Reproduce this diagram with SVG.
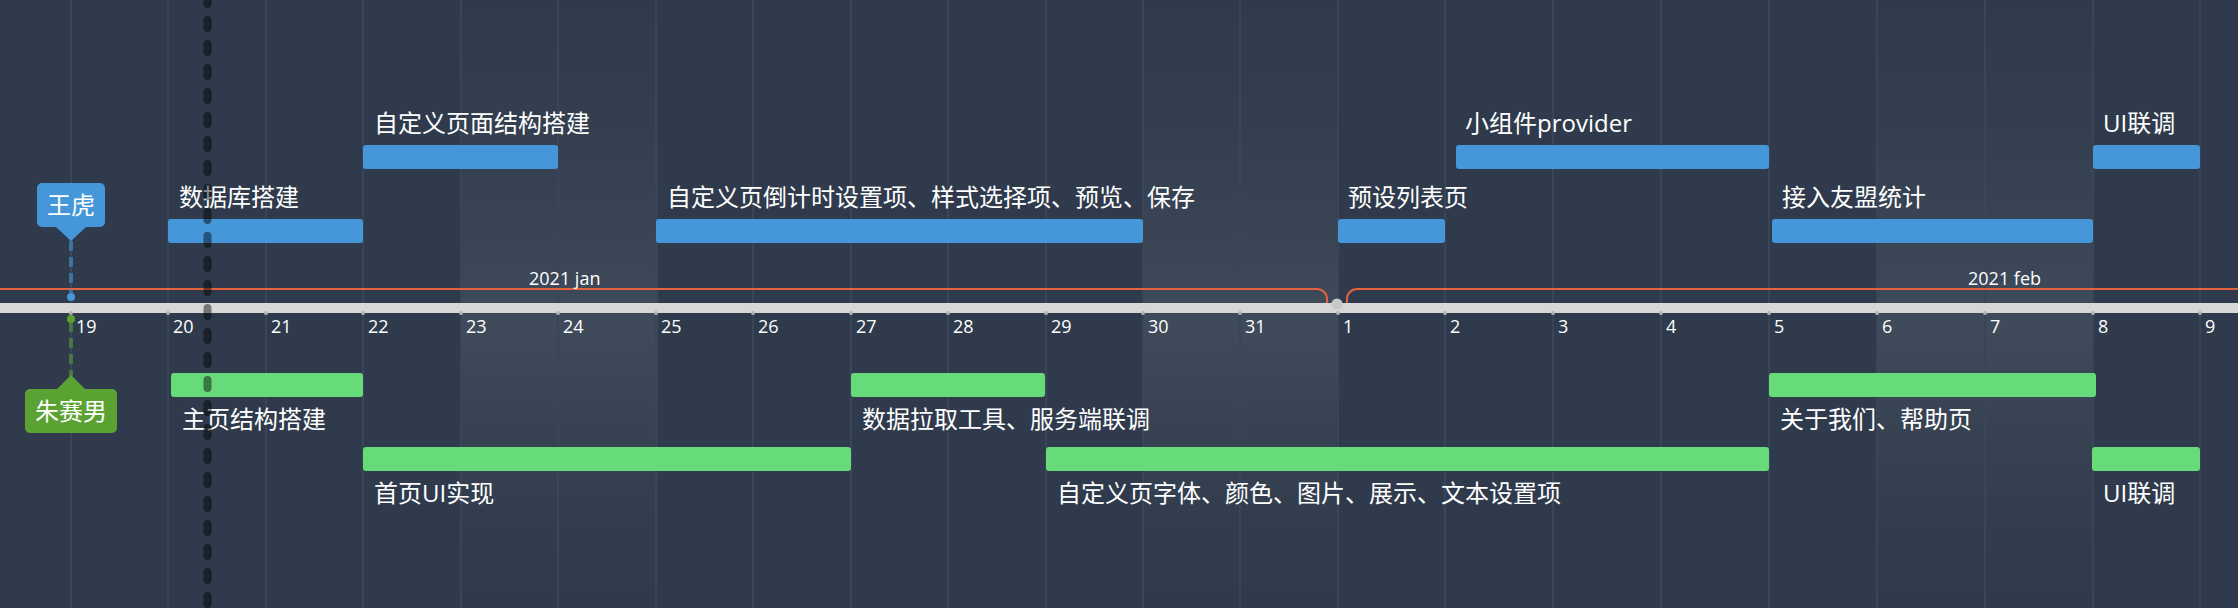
<svg xmlns="http://www.w3.org/2000/svg" width="2238" height="608" viewBox="0 0 2238 608">
<defs>
<linearGradient id="wk" gradientUnits="userSpaceOnUse" x1="0" y1="0" x2="0" y2="608">
<stop offset="0" stop-color="#ffffff" stop-opacity="0.0"/>
<stop offset="0.2" stop-color="#ffffff" stop-opacity="0.02"/>
<stop offset="0.4" stop-color="#ffffff" stop-opacity="0.05"/>
<stop offset="0.53" stop-color="#ffffff" stop-opacity="0.08"/>
<stop offset="0.7" stop-color="#ffffff" stop-opacity="0.04"/>
<stop offset="0.88" stop-color="#ffffff" stop-opacity="0.01"/>
<stop offset="1" stop-color="#ffffff" stop-opacity="0.0"/>
</linearGradient>
<style>
.grid{stroke:#3a4657;stroke-width:2}
.wk{fill:url(#wk)}
.day{font-family:"Open Sans","Noto Sans",sans-serif;font-size:18px;fill:#ffffff}
.lbl{font-family:"Open Sans","Noto Sans CJK SC",sans-serif;font-size:24px;fill:#ffffff}
.blue{fill:#4597d9}
.green{fill:#67db7a}
.tick{fill:#b4b4b4}
.month{fill:none;stroke:#e2633c;stroke-width:2}
</style>
</defs>
<rect x="0" y="0" width="2238" height="608" fill="#2f3b4c"/>
<g id="weekends">
<rect class="wk" x="461" y="0" width="197" height="608"/>
<rect class="wk" x="1143" y="0" width="195" height="608"/>
<rect class="wk" x="1877" y="0" width="216" height="608"/>
</g>
<g id="grid">
<line class="grid" x1="71" y1="0" x2="71" y2="608"/>
<line class="grid" x1="168" y1="0" x2="168" y2="608"/>
<line class="grid" x1="266" y1="0" x2="266" y2="608"/>
<line class="grid" x1="363" y1="0" x2="363" y2="608"/>
<line class="grid" x1="461" y1="0" x2="461" y2="608"/>
<line class="grid" x1="558" y1="0" x2="558" y2="608"/>
<line class="grid" x1="656" y1="0" x2="656" y2="608"/>
<line class="grid" x1="753" y1="0" x2="753" y2="608"/>
<line class="grid" x1="851" y1="0" x2="851" y2="608"/>
<line class="grid" x1="948" y1="0" x2="948" y2="608"/>
<line class="grid" x1="1046" y1="0" x2="1046" y2="608"/>
<line class="grid" x1="1143" y1="0" x2="1143" y2="608"/>
<line class="grid" x1="1240" y1="0" x2="1240" y2="608"/>
<line class="grid" x1="1338" y1="0" x2="1338" y2="608"/>
<line class="grid" x1="1445" y1="0" x2="1445" y2="608"/>
<line class="grid" x1="1553" y1="0" x2="1553" y2="608"/>
<line class="grid" x1="1661" y1="0" x2="1661" y2="608"/>
<line class="grid" x1="1769" y1="0" x2="1769" y2="608"/>
<line class="grid" x1="1877" y1="0" x2="1877" y2="608"/>
<line class="grid" x1="1985" y1="0" x2="1985" y2="608"/>
<line class="grid" x1="2093" y1="0" x2="2093" y2="608"/>
<line class="grid" x1="2200" y1="0" x2="2200" y2="608"/>
</g>
<g id="axis">
<rect x="0" y="303" width="2238" height="10" fill="#d7d7d7"/>
<g class="tick">
<circle cx="71" cy="313" r="2"/><circle cx="168" cy="313" r="2"/><circle cx="266" cy="313" r="2"/><circle cx="363" cy="313" r="2"/><circle cx="461" cy="313" r="2"/><circle cx="558" cy="313" r="2"/><circle cx="656" cy="313" r="2"/><circle cx="753" cy="313" r="2"/><circle cx="851" cy="313" r="2"/><circle cx="948" cy="313" r="2"/><circle cx="1046" cy="313" r="2"/><circle cx="1143" cy="313" r="2"/><circle cx="1240" cy="313" r="2"/><circle cx="1338" cy="313" r="2"/><circle cx="1445" cy="313" r="2"/><circle cx="1553" cy="313" r="2"/><circle cx="1661" cy="313" r="2"/><circle cx="1769" cy="313" r="2"/><circle cx="1877" cy="313" r="2"/><circle cx="1985" cy="313" r="2"/><circle cx="2093" cy="313" r="2"/><circle cx="2200" cy="313" r="2"/>
</g>
<circle cx="1337" cy="304" r="5.5" fill="#c8c8c8"/>
<path class="month" d="M0 289 H1317 A10 10 0 0 1 1327 299 V303"/>
<path class="month" d="M1347 303 V299 A10 10 0 0 1 1357 289 H2238"/>
<text class="day" x="529" y="285">2021 jan</text>
<text class="day" x="1968" y="285">2021 feb</text>
<text class="day" x="76" y="333">19</text>
<text class="day" x="173" y="333">20</text>
<text class="day" x="271" y="333">21</text>
<text class="day" x="368" y="333">22</text>
<text class="day" x="466" y="333">23</text>
<text class="day" x="563" y="333">24</text>
<text class="day" x="661" y="333">25</text>
<text class="day" x="758" y="333">26</text>
<text class="day" x="856" y="333">27</text>
<text class="day" x="953" y="333">28</text>
<text class="day" x="1051" y="333">29</text>
<text class="day" x="1148" y="333">30</text>
<text class="day" x="1245" y="333">31</text>
<text class="day" x="1343" y="333">1</text>
<text class="day" x="1450" y="333">2</text>
<text class="day" x="1558" y="333">3</text>
<text class="day" x="1666" y="333">4</text>
<text class="day" x="1774" y="333">5</text>
<text class="day" x="1882" y="333">6</text>
<text class="day" x="1990" y="333">7</text>
<text class="day" x="2098" y="333">8</text>
<text class="day" x="2205" y="333">9</text>
</g>
<g id="connectors">
<line x1="71" y1="241" x2="71" y2="293" stroke="#4597d9" stroke-opacity="0.55" stroke-width="4" stroke-dasharray="10 6"/>
<line x1="71" y1="322" x2="71" y2="376" stroke="#5aa333" stroke-opacity="0.55" stroke-width="4" stroke-dasharray="10 6"/>
</g>
<g id="group-wanghu">
<circle cx="71" cy="297" r="4" fill="#4597d9"/>
<path d="M42 183 H100 A5 5 0 0 1 105 188 V222 A5 5 0 0 1 100 227 H86 L71 241 L56 227 H42 A5 5 0 0 1 37 222 V188 A5 5 0 0 1 42 183 Z" fill="#4597d9"/>
<text class="lbl" x="71" y="214" text-anchor="middle">王虎</text>
</g>
<g id="group-zhusainan">
<circle cx="71" cy="319" r="4" fill="#5aa333"/>
<path d="M30 389 H57 L71 375 L85 389 H112 A5 5 0 0 1 117 394 V428 A5 5 0 0 1 112 433 H30 A5 5 0 0 1 25 428 V394 A5 5 0 0 1 30 389 Z" fill="#5aa333"/>
<text class="lbl" x="71" y="420" text-anchor="middle">朱赛男</text>
</g>
<g id="item-db">
<rect class="blue" x="168" y="219" width="195" height="24" rx="3"/>
<text class="lbl" x="179" y="206">数据库搭建</text>
</g>
<g id="item-custom-struct">
<rect class="blue" x="363" y="145" width="195" height="24" rx="3"/>
<text class="lbl" x="374" y="132">自定义页面结构搭建</text>
</g>
<g id="item-custom-countdown">
<rect class="blue" x="656" y="219" width="487" height="24" rx="3"/>
<text class="lbl" x="667" y="206">自定义页倒计时设置项、样式选择项、预览、保存</text>
</g>
<g id="item-preset">
<rect class="blue" x="1338" y="219" width="107" height="24" rx="3"/>
<text class="lbl" x="1348" y="206">预设列表页</text>
</g>
<g id="item-provider">
<rect class="blue" x="1456" y="145" width="313" height="24" rx="3"/>
<text class="lbl" x="1465" y="132">小组件provider</text>
</g>
<g id="item-umeng">
<rect class="blue" x="1772" y="219" width="321" height="24" rx="3"/>
<text class="lbl" x="1782" y="206">接入友盟统计</text>
</g>
<g id="item-ui-blue">
<rect class="blue" x="2093" y="145" width="107" height="24" rx="3"/>
<text class="lbl" x="2103" y="132">UI联调</text>
</g>
<g id="item-home-struct">
<rect class="green" x="171" y="373" width="192" height="24" rx="3"/>
<text class="lbl" x="182" y="428">主页结构搭建</text>
</g>
<g id="item-home-ui">
<rect class="green" x="363" y="447" width="488" height="24" rx="3"/>
<text class="lbl" x="374" y="502">首页UI实现</text>
</g>
<g id="item-data">
<rect class="green" x="851" y="373" width="194" height="24" rx="3"/>
<text class="lbl" x="862" y="428">数据拉取工具、服务端联调</text>
</g>
<g id="item-font">
<rect class="green" x="1046" y="447" width="723" height="24" rx="3"/>
<text class="lbl" x="1057" y="502">自定义页字体、颜色、图片、展示、文本设置项</text>
</g>
<g id="item-about">
<rect class="green" x="1769" y="373" width="327" height="24" rx="3"/>
<text class="lbl" x="1780" y="428">关于我们、帮助页</text>
</g>
<g id="item-ui-green">
<rect class="green" x="2092" y="447" width="108" height="24" rx="3"/>
<text class="lbl" x="2103" y="502">UI联调</text>
</g>
<g id="current-time">
<line x1="207.5" y1="-4" x2="207.5" y2="612" stroke="#000000" stroke-opacity="0.45" stroke-width="8" stroke-linecap="round" stroke-dasharray="8 16"/>
</g>
</svg>
